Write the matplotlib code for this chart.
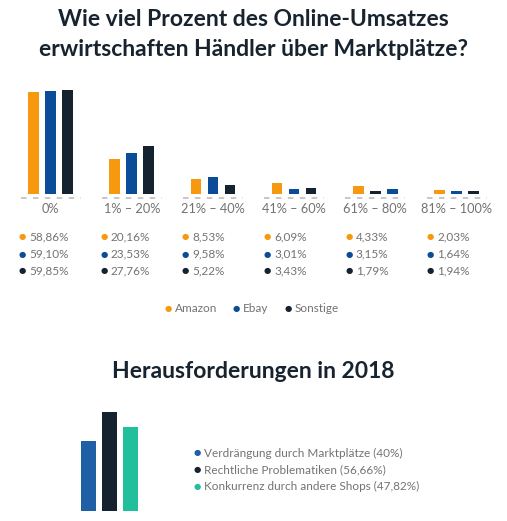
import matplotlib.pyplot as plt
import numpy as np

plt.rcParams["font.family"] = ["Lato", "DejaVu Sans"]

# --- data: share of online revenue via marketplaces
groups = ["0%", "1% – 20%", "21% – 40%", "41% – 60%", "61% – 80%", "81% – 100%"]
series = ["Amazon", "Ebay", "Sonstige"]
amazon = [58.86, 20.16, 8.53, 6.09, 4.33, 2.03]
ebay = [59.10, 23.53, 9.58, 3.01, 3.15, 1.64]
sonstige = [59.85, 27.76, 5.22, 3.43, 1.79, 1.94]
# bar slot per series in each group (61-80% shows Sonstige in the middle)
slot_order = [[0, 1, 2], [0, 1, 2], [0, 1, 2], [0, 1, 2], [0, 2, 1], [0, 1, 2]]
colors = ["#f7990f", "#0b4c98", "#15222f"]

# --- data: challenges 2018
challenges = ["Verdrängung durch Marktplätze", "Rechtliche Problematiken",
              "Konkurrenz durch andere Shops"]
challenge_vals = [40.0, 56.66, 47.82]
challenge_labels = ["40%", "56,66%", "47,82%"]
challenge_colors = ["#1f5fa6", "#15222f", "#22bf9c"]

W, H = 507, 521
TITLE = "#17232e"
GREY = "#737373"


def fx(px):
    return px / W


def fy(py):
    return 1 - py / H


def de(v):
    return f"{v:.2f}".replace(".", ",") + "%"


fig = plt.figure(figsize=(W / 100, H / 100), dpi=100)
fig.patch.set_facecolor("white")

fig.text(0.5, fy(20), "Wie viel Prozent des Online-Umsatzes", ha="center", va="center",
         fontsize=16.5, fontweight="bold", color=TITLE)
fig.text(0.5, fy(50), "erwirtschaften Händler über Marktplätze?", ha="center", va="center",
         fontsize=16.5, fontweight="bold", color=TITLE)

# top grouped bars: 1.74 px per percent, baseline at y=194 px
scale = 1.74
pitch = 81.2
c0 = 50.5
ylo, yhi = -4, 62
ax = fig.add_axes([0, fy(194 - ylo * scale), 1, (yhi - ylo) * scale / H])
ax.set_xlim(-c0 / pitch, (W - c0) / pitch)
ax.set_ylim(ylo, yhi)
ax.axis("off")
vals = [amazon, ebay, sonstige]
off = 17 / pitch
bw = 10.5 / pitch
x = np.arange(len(groups))
for i in range(len(groups)):
    for s in range(3):
        pos = x[i] + (slot_order[i][s] - 1) * off
        ax.bar(pos, vals[s][i], bw, color=colors[s])
    ax.plot([x[i] - 30 / pitch, x[i] + 30 / pitch], [-4 / scale] * 2, color="#b8b8b8",
            lw=1.1, dashes=(3.6, 4.2), solid_capstyle="butt")
    fig.text(fx(c0 + i * pitch), fy(209), groups[i], ha="center", va="center",
             fontsize=9.2, color=GREY)

# value table
for i in range(len(groups)):
    for s in range(3):
        px, py = 22 + i * 81.7, 237 + s * 17
        fig.text(fx(px), fy(py), "●", ha="center", va="center", fontsize=6,
                 color=colors[s], family="DejaVu Sans")
        fig.text(fx(px + 7), fy(py), de(vals[s][i]), ha="left", va="center",
                 fontsize=8.5, color=GREY)

# legend
for s, lx in enumerate([168, 236, 288]):
    fig.text(fx(lx), fy(309), "●", ha="center", va="center", fontsize=6,
             color=colors[s], family="DejaVu Sans")
    fig.text(fx(lx + 7), fy(309), series[s], ha="left", va="center",
             fontsize=8.5, color=GREY)

fig.text(0.5, fy(372), "Herausforderungen in 2018", ha="center", va="center",
         fontsize=16.5, fontweight="bold", color=TITLE)

# bottom bars: 1.75 px per percent, baseline at y=511 px
scale2 = 1.75
ax2 = fig.add_axes([fx(78), fy(511), 63 / W, 60 * scale2 / H])
ax2.set_xlim(-0.5, 2.5)
ax2.set_ylim(0, 60)
ax2.axis("off")
ax2.bar(np.arange(3), challenge_vals, 15 / 21, color=challenge_colors)

for k, (name, lab) in enumerate(zip(challenges, challenge_labels)):
    py = 453 + k * 16.5
    fig.text(fx(197), fy(py), "●", ha="center", va="center", fontsize=6,
             color=challenge_colors[k], family="DejaVu Sans")
    fig.text(fx(204), fy(py), f"{name} ({lab})", ha="left", va="center",
             fontsize=8.5, color=GREY)

fig.savefig("out.png", dpi=100, facecolor="white")
